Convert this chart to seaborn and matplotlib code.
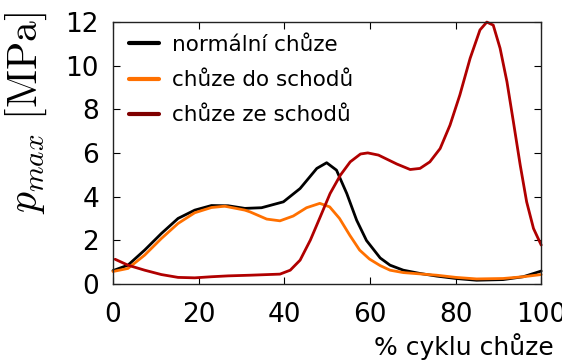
import matplotlib
matplotlib.use("Agg")
import matplotlib.pyplot as plt
import seaborn as sns
import pandas as pd
from matplotlib.lines import Line2D

x_normal = [0, 3.5, 7.4, 11.3, 15.2, 19.1, 23, 26.9, 30.8, 34.7, 39.8, 43.7, 47.6, 49.9, 52.2, 54.6, 56.9, 59.2, 62.4, 64.7, 67.8, 71.7, 75.6, 80.1, 84.9, 91.1, 95.8, 100]
y_normal = [0.62, 0.87, 1.56, 2.32, 3.01, 3.39, 3.6, 3.59, 3.47, 3.5, 3.77, 4.38, 5.3, 5.56, 5.22, 4.15, 2.93, 2.0, 1.2, 0.87, 0.64, 0.49, 0.37, 0.26, 0.18, 0.21, 0.34, 0.6]

x_up = [0, 3.5, 7.4, 11.3, 15.2, 19.1, 23, 26.1, 30.8, 32, 35.9, 39, 42.1, 45.2, 48.3, 50.6, 52.9, 55.3, 57.6, 59.9, 62.4, 64.7, 67.8, 71.7, 75.6, 80.1, 84.9, 91.1, 95.8, 100]
y_up = [0.58, 0.72, 1.33, 2.09, 2.78, 3.27, 3.51, 3.57, 3.39, 3.31, 2.98, 2.9, 3.12, 3.5, 3.7, 3.54, 3.01, 2.24, 1.56, 1.15, 0.85, 0.64, 0.53, 0.47, 0.41, 0.31, 0.24, 0.26, 0.34, 0.44]

x_down = [0.5, 3.5, 7.4, 11.3, 15.2, 19.1, 23, 26.9, 32, 39, 41.4, 43.7, 46.1, 48.4, 50.7, 53.1, 55.4, 57.8, 59.5, 62, 66.3, 69.4, 71.7, 74, 76.4, 78.7, 81, 83.4, 85.7, 87.3, 88.8, 90.4, 92, 93.5, 95.1, 96.6, 98.2, 100]
y_down = [1.14, 0.87, 0.64, 0.44, 0.31, 0.29, 0.34, 0.38, 0.41, 0.46, 0.64, 1.1, 2.02, 3.08, 4.15, 4.99, 5.6, 5.96, 6.01, 5.91, 5.5, 5.25, 5.3, 5.6, 6.21, 7.28, 8.66, 10.34, 11.64, 12.0, 11.86, 10.8, 9.27, 7.44, 5.45, 3.77, 2.55, 1.79]

labels = ["normální chůze", "chůze do schodů", "chůze ze schodů"]
line_colors = ["#000000", "#ff7000", "#b00000"]
legend_colors = ["#000000", "#ff7000", "#800000"]

sns.set_style("ticks")
plt.rcParams['font.family'] = ['DejaVu Sans']
plt.rcParams['mathtext.fontset'] = 'cm'
plt.rcParams['text.color'] = 'black'
plt.rcParams['axes.labelcolor'] = 'black'
plt.rcParams['xtick.color'] = 'black'
plt.rcParams['ytick.color'] = 'black'
plt.rcParams['axes.edgecolor'] = '#222222'

fig = plt.figure(figsize=(5.62, 3.62), dpi=100)
ax = fig.add_axes([0.201, 0.215, 0.762, 0.724])

for xs, ys, c in zip([x_normal, x_up, x_down], [y_normal, y_up, y_down], line_colors):
    df = pd.DataFrame({"x": xs, "y": ys})
    sns.lineplot(data=df, x="x", y="y", ax=ax, color=c, linewidth=2.0, sort=True)

for l in ax.get_lines():
    l.set_solid_joinstyle("round")
    l.set_clip_on(False)

ax.set_xlim(0, 100)
ax.set_ylim(0, 12)
ax.set_xticks([0, 20, 40, 60, 80, 100])
ax.set_yticks([0, 2, 4, 6, 8, 10, 12])
ax.tick_params(direction="in", length=5, width=0.8, top=True, right=True, labelsize=19,
               colors="black")
ax.tick_params(axis="x", pad=13)
ax.tick_params(axis="y", pad=10)
for s in ax.spines.values():
    s.set_linewidth(1.0)
    s.set_color("#222222")

ax.set_xlabel("")
ax.set_ylabel(r"$p_{max}\ [\mathrm{MPa}]$", fontsize=30, color="black")
ax.yaxis.set_label_coords(-0.15, 0.655)
fig.text(0.985, 0.005, "% cyklu chůze", ha="right", va="bottom", fontsize=18, color="black")

handles = [Line2D([0], [0], color=c, lw=3) for c in legend_colors]
leg = ax.legend(handles, labels, loc="upper left", frameon=False, fontsize=15.5,
                handlelength=1.4, handletextpad=0.6, labelspacing=0.7,
                borderaxespad=0.2, bbox_to_anchor=(0.007, 1.0))
for t in leg.get_texts():
    t.set_color("black")

fig.savefig("out.png", dpi=100)
